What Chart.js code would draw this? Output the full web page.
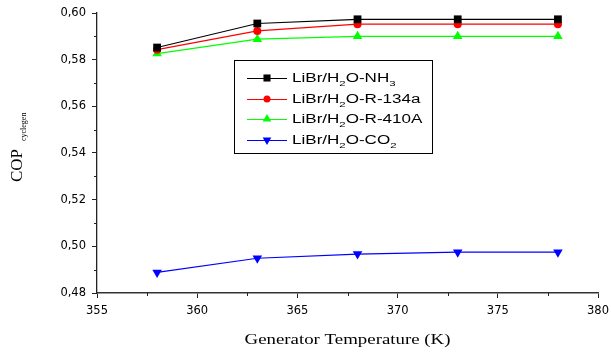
<!DOCTYPE html>
<html>
<head>
<meta charset="utf-8">
<script src="https://cdn.jsdelivr.net/npm/chart.js@4.4.0/dist/chart.umd.min.js"></script>
<style>
  html, body { margin: 0; padding: 0; background: #fff; }
  #wrap { position: relative; width: 611px; height: 354px; }
</style>
</head>
<body>
<div id="wrap"><canvas id="copChart" width="611" height="354"></canvas></div>
<script>
// generator temperature (K)
const temps = [358, 363, 368, 373, 378];

// COP cyclegen per working pair
const copNH3 = [0.5852, 0.5955, 0.5973, 0.5973, 0.5973];
const copR134a = [0.5843, 0.5923, 0.5952, 0.5952, 0.5952];
const copR410A = [0.5826, 0.5888, 0.5900, 0.5900, 0.5900];
const copCO2 = [0.4888, 0.4949, 0.4967, 0.4975, 0.4975];

// legend labels, "_x" = subscript character
const seriesLabels = ['LiBr/H_2O-NH_3', 'LiBr/H_2O-R-134a', 'LiBr/H_2O-R-410A', 'LiBr/H_2O-CO_2'];
const seriesColors = ['#000000', '#ff0000', '#00ff00', '#0000ff'];
const seriesStyles = ['rect', 'circle', 'triangle', 'triangle'];
const seriesRot = [0, 0, 0, 180];
const seriesRadius = [5.5, 4, 5.5, 5.5];

const xTitle = 'Generator Temperature (K)';
const yTitle = 'COP';
const yTitleSub = 'cyclegen';

const allSeries = [copNH3, copR134a, copR410A, copCO2];

const datasets = allSeries.map((vals, i) => ({
  label: seriesLabels[i],
  data: temps.map((t, j) => ({ x: t, y: vals[j] })),
  borderColor: seriesColors[i],
  backgroundColor: seriesColors[i],
  borderWidth: 1.2,
  pointStyle: seriesStyles[i],
  rotation: seriesRot[i],
  pointRadius: seriesRadius[i],
  pointBorderWidth: 0,
  tension: 0
}));

function splitSub(s) {
  const parts = [];
  let buf = '';
  for (let i = 0; i < s.length; i++) {
    if (s[i] === '_' && i + 1 < s.length) {
      if (buf) parts.push({ t: buf, sub: false });
      buf = '';
      parts.push({ t: s[i + 1], sub: true });
      i++;
    } else {
      buf += s[i];
    }
  }
  if (buf) parts.push({ t: buf, sub: false });
  return parts;
}

const extras = {
  id: 'extras',
  afterDraw(chart) {
    const ctx = chart.ctx;
    const xs = chart.scales.x, ys = chart.scales.y;
    const area = chart.chartArea;

    // minor ticks
    ctx.save();
    ctx.strokeStyle = '#222';
    ctx.lineWidth = 1;
    for (let v = 0.49; v < 0.6; v += 0.02) {
      const py = Math.round(ys.getPixelForValue(v)) + 0.5;
      ctx.beginPath(); ctx.moveTo(area.left - 3, py); ctx.lineTo(area.left, py); ctx.stroke();
    }
    for (let v = 357.5; v < 380; v += 5) {
      const px = Math.round(xs.getPixelForValue(v)) + 0.5;
      ctx.beginPath(); ctx.moveTo(px, area.bottom); ctx.lineTo(px, area.bottom + 3); ctx.stroke();
    }
    ctx.restore();

    // legend box
    ctx.save();
    ctx.strokeStyle = '#000';
    ctx.lineWidth = 1;
    ctx.strokeRect(234.5, 60.5, 198, 93);
    const rows = [78, 99, 119, 140];
    seriesLabels.forEach((lab, i) => {
      const cy = rows[i];
      ctx.strokeStyle = seriesColors[i];
      ctx.lineWidth = 1;
      ctx.beginPath(); ctx.moveTo(247, cy + 0.5); ctx.lineTo(287, cy + 0.5); ctx.stroke();
      ctx.fillStyle = seriesColors[i];
      Chart.helpers.drawPoint(ctx, {
        pointStyle: seriesStyles[i], radius: seriesRadius[i] - 0.5,
        rotation: seriesRot[i], borderWidth: 0
      }, 267, cy);
      // text, stretched a little to match the reference
      ctx.save();
      ctx.translate(292, cy + 4.3);
      ctx.scale(1.42, 1);
      ctx.fillStyle = '#000';
      ctx.textBaseline = 'alphabetic';
      let x = 0;
      splitSub(lab).forEach(p => {
        if (p.sub) {
          ctx.font = '8px "Liberation Sans", Arial, sans-serif';
          ctx.fillText(p.t, x, 4);
        } else {
          ctx.font = '12px "Liberation Sans", Arial, sans-serif';
          ctx.fillText(p.t, x, 0);
        }
        x += ctx.measureText(p.t).width;
      });
      ctx.restore();
    });
    ctx.restore();

    // x axis title
    ctx.save();
    ctx.fillStyle = '#000';
    ctx.font = '14.5px "Liberation Serif", "Times New Roman", serif';
    ctx.translate((area.left + area.right) / 2, 344);
    ctx.scale(1.3, 1);
    ctx.textAlign = 'center';
    ctx.fillText(xTitle, 0, 0);
    ctx.restore();

    // y axis title with subscript
    ctx.save();
    ctx.fillStyle = '#000';
    ctx.translate(22, 182);
    ctx.rotate(-Math.PI / 2);
    ctx.font = '17px "Liberation Serif", "Times New Roman", serif';
    ctx.fillText(yTitle, 0, 0);
    ctx.font = '8px "Liberation Serif", "Times New Roman", serif';
    ctx.fillText(yTitleSub, 41, 4);
    ctx.restore();
  }
};

new Chart(document.getElementById('copChart'), {
  type: 'line',
  data: { datasets: datasets },
  options: {
    responsive: false,
    animation: false,
    layout: { padding: { left: 0, right: 13, top: 13, bottom: 0 } },
    plugins: { legend: { display: false }, tooltip: { enabled: false } },
    scales: {
      x: {
        type: 'linear',
        min: 355, max: 380,
        afterFit(s) { s.height = 61; s.paddingLeft = 0; s.paddingRight = 0; },
        ticks: {
          stepSize: 5, color: '#000', padding: 6, maxRotation: 0,
          font: { family: '"DejaVu Sans", sans-serif', size: 11.5 }
        },
        grid: { drawOnChartArea: false, tickLength: 5, color: '#222', tickColor: '#222' },
        border: { display: true, color: '#333', width: 1.6 }
      },
      y: {
        min: 0.48, max: 0.60,
        afterFit(s) { s.width = 97; s.paddingTop = 0; s.paddingBottom = 0; },
        ticks: {
          stepSize: 0.02, color: '#000', padding: 6,
          font: { family: '"DejaVu Sans", sans-serif', size: 11.5 },
          callback: v => v.toFixed(2).replace('.', ',')
        },
        grid: { drawOnChartArea: false, tickLength: 5, color: '#222', tickColor: '#222' },
        border: { display: true, color: '#222', width: 1.3 }
      }
    }
  },
  plugins: [extras]
});
</script>
</body>
</html>
